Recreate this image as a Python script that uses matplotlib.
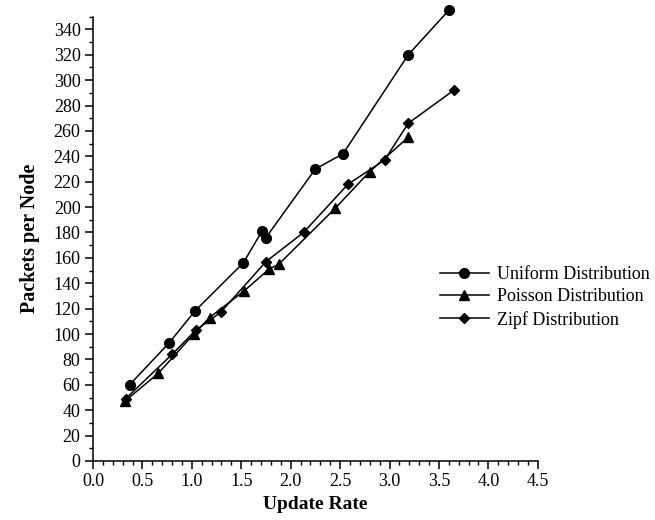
import matplotlib
matplotlib.use("Agg")
import matplotlib.pyplot as plt
from matplotlib.ticker import MultipleLocator

plt.rcParams['font.family'] = ['Liberation Serif', 'DejaVu Serif']

uniform_x = [0.37, 0.77, 1.03, 1.52, 1.71, 1.75, 2.25, 2.53, 3.19, 3.60]
uniform_y = [60, 93, 118, 156, 181, 176, 230, 242, 320, 355]

poisson_x = [0.32, 0.66, 1.02, 1.18, 1.53, 1.78, 1.88, 2.45, 2.80, 3.19]
poisson_y = [47, 69, 100, 113, 134, 151, 155, 199, 228, 255]

zipf_x = [0.33, 0.80, 1.04, 1.29, 1.75, 2.13, 2.58, 2.95, 3.19, 3.65]
zipf_y = [49, 84, 103, 117, 157, 180, 218, 237, 266, 292]

labels = ["Uniform Distribution", "Poisson Distribution", "Zipf Distribution"]

fig = plt.figure(figsize=(6.55, 5.2), dpi=100)
ax = fig.add_axes([0.142, 0.1135, 0.679, 0.8545])

kw = dict(color='black', linewidth=1.1, markerfacecolor='black',
          markeredgecolor='black', clip_on=False)
ax.plot(uniform_x, uniform_y, marker='o', markersize=7, label=labels[0], **kw)
ax.plot(poisson_x, poisson_y, marker='^', markersize=7, label=labels[1], **kw)
ax.plot(zipf_x, zipf_y, marker='D', markersize=5, label=labels[2], **kw)

ax.set_xlim(0, 4.5)
ax.set_ylim(0, 350)
ax.xaxis.set_major_locator(MultipleLocator(0.5))
ax.xaxis.set_minor_locator(MultipleLocator(0.1))
ax.set_yticks(range(0, 341, 20))
ax.yaxis.set_minor_locator(MultipleLocator(10))
ax.set_xticklabels([f"{v:.1f}" for v in ax.get_xticks()])

for s in ['top', 'right']:
    ax.spines[s].set_visible(False)
for s in ['left', 'bottom']:
    ax.spines[s].set_linewidth(1.1)
ax.tick_params(which='major', direction='out', length=6, width=1.1, labelsize=13, pad=3)
ax.tick_params(which='minor', direction='out', length=3, width=1.0)

ax.set_xlabel("Update Rate", fontsize=14, fontweight='bold', labelpad=4)
ax.set_ylabel("Packets per Node", fontsize=14.5, fontweight='bold', labelpad=10)

ax.legend(loc='upper left', bbox_to_anchor=(440 / 655, 1 - 266 / 520),
          bbox_transform=fig.transFigure, frameon=False,
          fontsize=13, handlelength=2.7, handletextpad=0.45, labelspacing=0.3,
          borderaxespad=0, borderpad=0)

fig.savefig("out.png", dpi=100)
